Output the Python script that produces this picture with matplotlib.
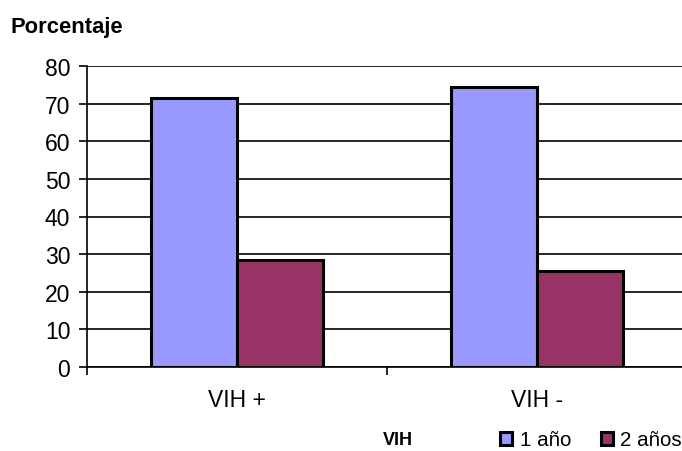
import numpy as np
import matplotlib.pyplot as plt
from matplotlib.patches import Rectangle

plt.rcParams['font.family'] = ['Liberation Sans', 'DejaVu Sans']

categorias = ['VIH +', 'VIH -']
series = ['1 año', '2 años']
un_ano = [71.5, 74.5]
dos_anos = [28.5, 25.5]
colores = ['#9999FF', '#993366']

fig = plt.figure(figsize=(6.82, 4.52), dpi=100)
ax = fig.add_axes([87 / 682, 1 - 368 / 452, 600 / 682, 301 / 452])

x = np.arange(len(categorias)) + 0.5
ancho = 0.287
ax.bar(x - ancho / 2, un_ano, ancho, color=colores[0], edgecolor='black', linewidth=2.2, zorder=3)
ax.bar(x + ancho / 2, dos_anos, ancho, color=colores[1], edgecolor='black', linewidth=2.2, zorder=3)

ax.set_xlim(0, 2)
ax.set_ylim(0, 80)
ax.set_yticks(range(0, 81, 10))
ax.yaxis.grid(True, color='black', linewidth=1.2, zorder=0)
ax.tick_params(axis='y', labelsize=16.5, length=6, width=1.2, direction='out', pad=6)

ax.set_xticks([0, 1, 2])
ax.set_xticklabels([])
ax.set_xticks(x, minor=True)
ax.set_xticklabels(categorias, minor=True)
ax.tick_params(axis='x', which='major', length=6, width=1.2, direction='out')
ax.tick_params(axis='x', which='minor', length=0, labelsize=16.5, pad=15)

for lado in ['top', 'right']:
    ax.spines[lado].set_visible(False)
ax.spines['left'].set_linewidth(1.2)
ax.spines['bottom'].set_linewidth(1.2)

fig.text(11 / 682, 1 - 27 / 452, 'Porcentaje', fontsize=15.8, fontweight='bold', va='center', ha='left')
fig.text(398 / 682, 1 - 441 / 452, 'VIH', fontsize=13, fontweight='bold', va='center', ha='center')

handles = [Rectangle((0, 0), 1, 1, facecolor=c, edgecolor='black', linewidth=2.2) for c in colores]
fig.legend(handles, series, loc='center left', bbox_to_anchor=(500 / 682, 1 - 441 / 452),
           frameon=False, fontsize=14.8, handlelength=0.6, handleheight=0.6,
           handletextpad=0.35, columnspacing=1.45, ncol=2, borderpad=0, borderaxespad=0)

fig.savefig('out.png', dpi=100)
